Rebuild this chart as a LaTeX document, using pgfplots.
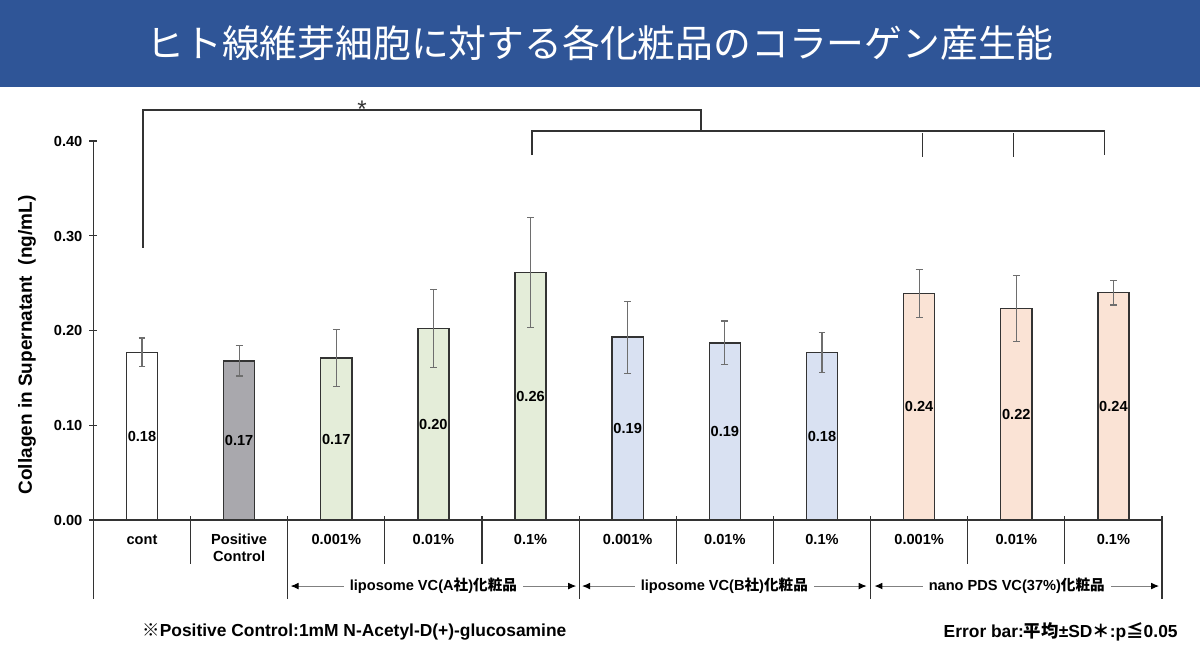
\documentclass[border=0pt]{standalone}
\usepackage{fontspec}
\setmainfont{Liberation Sans}
\newfontfamily\jp{Noto Sans CJK JP}
\usepackage{pgfplots}
\usepackage{pgfplotstable}
\pgfplotsset{compat=1.18}
\usetikzlibrary{arrows.meta}

\definecolor{titlebar}{HTML}{2F5597}
\definecolor{pcgray}{HTML}{A9A8AD}
\definecolor{agreen}{HTML}{E4EDD9}
\definecolor{bblue}{HTML}{D9E1F2}
\definecolor{ppeach}{HTML}{FAE3D5}
\definecolor{edge}{HTML}{333333}
\definecolor{errc}{HTML}{6E6E6E}

% mean, SD, printed label
\pgfplotstableread{
x y err lab
0 0.177 0.015 0.18
}\tcont
\pgfplotstableread{
x y err lab
1 0.168 0.016 0.17
}\tpc
\pgfplotstableread{
x y err lab
2 0.171 0.030 0.17
3 0.202 0.041 0.20
4 0.261 0.058 0.26
}\ta
\pgfplotstableread{
x y err lab
5 0.193 0.038 0.19
6 0.187 0.023 0.19
7 0.177 0.021 0.18
}\tb
\pgfplotstableread{
x y err lab
8 0.239 0.025 0.24
9 0.223 0.035 0.22
10 0.240 0.013 0.24
}\tp

\pgfplotsset{
  bars/.style={ybar, bar width=0.32, bar shift=0pt, draw=edge, line width=0.7pt, fill=#1,
    error bars/.cd, y dir=both, y explicit,
    error bar style={errc, line width=0.6pt},
    error mark options={rotate=90, errc, mark size=1.7pt, line width=0.6pt}},
  vals/.style={draw=none, mark=none, nodes near coords, point meta=explicit symbolic,
    every node near coord/.append style={anchor=center, inner sep=0pt, text=black,
      font=\bfseries\fontsize{7.3}{8}\selectfont}},
}
\newcommand{\lblfont}{\bfseries\fontsize{7.3}{8.6}\selectfont}

\begin{document}
\begin{tikzpicture}
\path (0,0) rectangle (600pt,327pt);
\fill[titlebar] (0,283.5pt) rectangle (600pt,327pt);
\node[white, font=\jp\fontsize{18.9}{20}\selectfont] at (300pt,305.5pt) {ヒト線維芽細胞に対する各化粧品のコラーゲン産生能};

\begin{axis}[
  at={(46.7pt,67pt)}, anchor=south west,
  scale only axis, width=534.3pt, height=189.5pt,
  xmin=-0.5, xmax=10.5, ymin=0, ymax=0.40,
  axis lines*=left,
  axis line style={edge, line width=0.7pt},
  clip=false,
  xtick={0,...,10},
  xticklabels={cont,{Positive\\Control},0.001\%,0.01\%,0.1\%,0.001\%,0.01\%,0.1\%,0.001\%,0.01\%,0.1\%},
  typeset ticklabels with strut,
  xticklabel style={align=center, font=\lblfont, yshift=-2.5pt},
  x tick style={draw=none},
  ytick={0,0.1,0.2,0.3,0.4},
  yticklabel style={font=\lblfont, yshift=-1pt, /pgf/number format/.cd, fixed, fixed zerofill, precision=2, assume math mode=true},
  ytick align=center, major tick length=4pt,
  y tick style={edge, line width=0.6pt},
  ylabel={Collagen in Supernatant\ \ (ng/mL)},
  ylabel style={at={(axis description cs:-0.0621,0.4617)}, anchor=center, font=\bfseries\fontsize{9.5}{10}\selectfont},
]
\addplot[bars=white] table[x=x, y=y, y error=err] {\tcont};
\addplot[bars=pcgray] table[x=x, y=y, y error=err] {\tpc};
\addplot[bars=agreen] table[x=x, y=y, y error=err] {\ta};
\addplot[bars=bblue] table[x=x, y=y, y error=err] {\tb};
\addplot[bars=ppeach] table[x=x, y=y, y error=err] {\tp};

\addplot[vals] table[x=x, y expr=\thisrow{y}/2, meta=lab] {\tcont};
\addplot[vals] table[x=x, y expr=\thisrow{y}/2, meta=lab] {\tpc};
\addplot[vals] table[x=x, y expr=\thisrow{y}/2, meta=lab] {\ta};
\addplot[vals] table[x=x, y expr=\thisrow{y}/2, meta=lab] {\tb};
\addplot[vals] table[x=x, y expr=\thisrow{y}/2, meta=lab] {\tp};

% separators under the axis
\draw[edge, line width=0.6pt] (axis cs:-0.5,0) -- (axis cs:-0.5,-0.0834);
\pgfplotsinvokeforeach{1.5,4.5,7.5,10.5}{
  \draw[edge, line width=0.6pt] (axis cs:#1,0.0042) -- (axis cs:#1,-0.0834);
}
\pgfplotsinvokeforeach{0.5,2.5,3.5,5.5,6.5,8.5,9.5}{
  \draw[edge, line width=0.6pt] (axis cs:#1,0.0042) -- (axis cs:#1,-0.0464);
}

% group arrows
\tikzset{grp/.style={draw=gray, line width=0.5pt,
  {Latex[length=4pt,width=3.4pt,color=black]}-{Latex[length=4pt,width=3.4pt,color=black]}}}
\draw[grp] (axis cs:1.53,-0.0697) -- (axis cs:4.47,-0.0697)
  node[midway, fill=white, text=black, inner xsep=3pt, inner ysep=1pt, font=\lblfont] {liposome VC(A{\jp 社}){\jp 化粧品}};
\draw[grp] (axis cs:4.53,-0.0697) -- (axis cs:7.46,-0.0697)
  node[midway, fill=white, text=black, inner xsep=3pt, inner ysep=1pt, font=\lblfont] {liposome VC(B{\jp 社}){\jp 化粧品}};
\draw[grp] (axis cs:7.54,-0.0697) -- (axis cs:10.47,-0.0697)
  node[midway, fill=white, text=black, inner xsep=3pt, inner ysep=1pt, font=\lblfont] {nano PDS VC(37\%){\jp 化粧品}};

% significance brackets
\draw[edge, line width=0.6pt] (axis cs:0.01,0.2871) -- (axis cs:0.01,0.4327) -- (axis cs:5.754,0.4327) -- (axis cs:5.754,0.4106);
\draw[edge, line width=0.6pt] (axis cs:4.014,0.3852) -- (axis cs:4.014,0.4106) -- (axis cs:9.907,0.4106) -- (axis cs:9.907,0.3852);
\draw[edge, line width=0.6pt] (axis cs:8.035,0.4084) -- (axis cs:8.035,0.3834);
\draw[edge, line width=0.6pt] (axis cs:8.97,0.4084) -- (axis cs:8.97,0.3834);
\node[anchor=base, inner sep=0pt, text=edge, font=\fontsize{12}{12}\selectfont] at (axis cs:2.266,0.4243) {*};
\end{axis}

\node[anchor=west, inner sep=0pt, font=\bfseries\fontsize{8.7}{9}\selectfont] at (71pt,11pt) {{\jp ※}Positive Control:1mM N-Acetyl-D(+)-glucosamine};
\node[anchor=east, inner sep=0pt, font=\bfseries\fontsize{8.7}{9}\selectfont] at (589pt,11pt) {Error bar:{\jp 平均}±SD{\jp ＊}:p{\jp ≦}0.05};
\end{tikzpicture}
\end{document}
